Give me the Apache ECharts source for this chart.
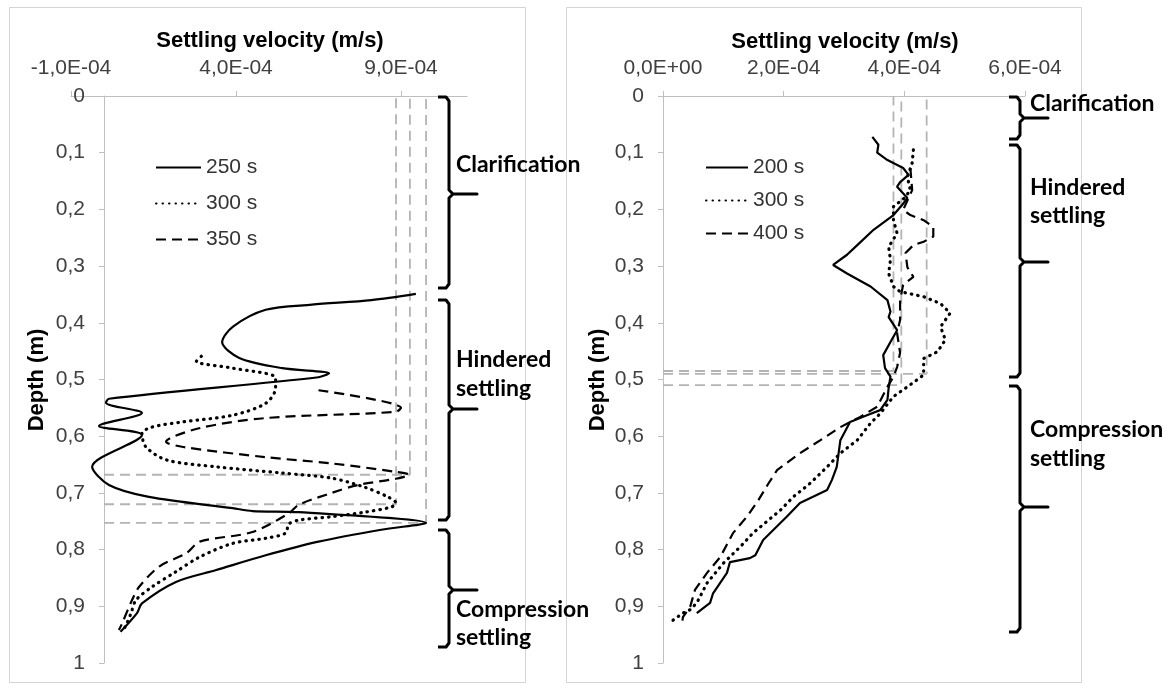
<!DOCTYPE html>
<html>
<head>
<meta charset="utf-8">
<script src="https://cdn.jsdelivr.net/npm/echarts@6/dist/echarts.min.js"></script>
<style>
  html, body { margin: 0; background: #fff; }
  #chart { width: 1171px; height: 684px; }
</style>
</head>
<body>
<div id="chart"></div>
<script>
// velocities are in units of 1E-4 m/s, depths in m
var PER_UNIT = 1e4;

// left panel: 250 s / 300 s / 350 s
var leftNames = ['250 s', '300 s', '350 s'];
var left250Depth = [0.349, 0.36, 0.368, 0.377, 0.407, 0.434, 0.462, 0.48, 0.489, 0.496, 0.534, 0.541, 0.559, 0.582, 0.598, 0.654, 0.686, 0.707, 0.727, 0.732, 0.734, 0.753, 0.765, 0.786, 0.81, 0.836, 0.857, 0.895, 0.912, 0.945];
var left250Vel   = [9.45, 8.1, 6.3, 4.9, 3.9, 3.58, 4.1, 5.4, 6.82, 6.5, 0.15, 0.06, 1.15, -0.15, 1.15, -0.36, 0.15, 1.36, 3.9, 4.5, 5.9, 9.76, 8.4, 6.5, 4.9, 3.4, 2.18, 1.15, 1.0, 0.5];
var left300Depth = [0.459, 0.468, 0.48, 0.497, 0.515, 0.542, 0.563, 0.575, 0.584, 0.595, 0.619, 0.642, 0.654, 0.665, 0.674, 0.69, 0.707, 0.718, 0.725, 0.734, 0.742, 0.748, 0.755, 0.771, 0.78, 0.789, 0.813, 0.839, 0.866, 0.889, 0.912, 0.933, 0.945];
var left300Vel   = [2.95, 2.8, 3.9, 5.2, 5.2, 4.9, 3.9, 2.36, 1.45, 1.15, 1.27, 1.9, 3.4, 5.4, 6.9, 7.9, 8.6, 8.85, 8.7, 7.9, 6.9, 5.9, 5.6, 5.5, 4.9, 3.9, 2.9, 2.18, 1.45, 0.97, 0.82, 0.67, 0.55];
var left350Depth = [0.519, 0.55, 0.557, 0.568, 0.586, 0.61, 0.619, 0.637, 0.648, 0.663, 0.668, 0.675, 0.686, 0.7, 0.721, 0.736, 0.769, 0.786, 0.806, 0.83, 0.866, 0.889, 0.93, 0.942];
var left350Vel   = [6.5, 9.0, 8.85, 4.9, 2.88, 1.88, 2.4, 4.9, 6.9, 8.85, 9.24, 8.85, 7.7, 6.9, 5.9, 5.6, 4.5, 2.9, 2.5, 1.67, 1.06, 0.85, 0.55, 0.45];
// dashed guides: velocity and depth of each profile's peak
var leftGuideVel   = [8.85, 9.27, 9.76];
var leftGuideDepth = [0.72, 0.668, 0.753];
var leftVelTicks = [-1, 4, 9];

// right panel: 200 s / 300 s / 400 s
var rightNames = ['200 s', '300 s', '400 s'];
var right200Depth = [0.072, 0.086, 0.1, 0.113, 0.127, 0.139, 0.152, 0.16, 0.18, 0.19, 0.21, 0.236, 0.263, 0.28, 0.298, 0.313, 0.336, 0.36, 0.38, 0.39, 0.413, 0.434, 0.457, 0.48, 0.495, 0.515, 0.536, 0.554, 0.563, 0.575, 0.607, 0.654, 0.677, 0.695, 0.718, 0.742, 0.783, 0.81, 0.815, 0.822, 0.841, 0.877, 0.894, 0.912];
var right200Vel   = [3.47, 3.57, 3.55, 3.72, 3.98, 4.07, 3.93, 3.88, 4.05, 3.98, 3.82, 3.49, 3.22, 3.05, 2.82, 3.05, 3.44, 3.72, 3.77, 3.74, 3.88, 3.77, 3.65, 3.68, 3.77, 3.74, 3.72, 3.6, 3.38, 3.1, 2.94, 2.88, 2.8, 2.72, 2.27, 2.05, 1.66, 1.53, 1.44, 1.11, 1.06, 0.83, 0.78, 0.56];
var right300Depth = [0.095, 0.118, 0.143, 0.166, 0.18, 0.195, 0.219, 0.242, 0.266, 0.289, 0.313, 0.336, 0.345, 0.354, 0.366, 0.383, 0.407, 0.43, 0.451, 0.463, 0.492, 0.513, 0.53, 0.56, 0.577, 0.607, 0.63, 0.654, 0.683, 0.707, 0.73, 0.771, 0.795, 0.824, 0.859, 0.894, 0.906, 0.912, 0.928];
var right300Vel   = [4.15, 4.13, 4.05, 4.1, 4.0, 3.82, 3.82, 3.88, 3.74, 3.77, 3.74, 3.82, 3.93, 4.32, 4.6, 4.76, 4.6, 4.68, 4.55, 4.32, 4.32, 4.05, 3.82, 3.6, 3.44, 3.22, 2.94, 2.72, 2.44, 2.16, 1.95, 1.49, 1.28, 1.0, 0.73, 0.56, 0.45, 0.33, 0.12];
var right400Depth = [0.127, 0.166, 0.201, 0.21, 0.219, 0.231, 0.248, 0.257, 0.263, 0.277, 0.302, 0.319, 0.333, 0.36, 0.395, 0.418, 0.453, 0.478, 0.495, 0.513, 0.548, 0.566, 0.584, 0.607, 0.63, 0.66, 0.683, 0.713, 0.742, 0.771, 0.813, 0.841, 0.871, 0.901, 0.919, 0.936];
var right400Vel   = [4.1, 4.13, 3.98, 4.1, 4.32, 4.48, 4.48, 4.32, 4.15, 4.02, 4.05, 4.15, 3.98, 3.93, 3.93, 3.88, 3.93, 3.88, 3.82, 3.72, 3.55, 3.27, 2.94, 2.61, 2.27, 1.89, 1.75, 1.58, 1.39, 1.16, 0.95, 0.73, 0.53, 0.45, 0.33, 0.31];
var rightGuideVel   = [3.82, 4.37, 3.95];
var rightGuideDepth = [0.485, 0.49, 0.51];
var rightVelTicks = [0, 2, 4, 6];

var chart = echarts.init(document.getElementById('chart'));

var AXIS_GREY = '#bfbfbf';
var TICK_FONT = '"Liberation Sans", Arial, sans-serif';
var NOTE_FONT = 'bold 23px Lato, "Open Sans", sans-serif';
var dashTypes = { solid: 'solid', dotted: [0.5, 6], dashed: [10, 6] };

function pairs(vel, depth) {
  return depth.map(function (d, i) { return [vel[i] / PER_UNIT, d]; });
}

function profile(name, idx, vel, depth, kind, smooth) {
  return {
    type: 'line', name: name, xAxisIndex: idx, yAxisIndex: idx,
    data: pairs(vel, depth), symbol: 'none', smooth: smooth, z: 3,
    itemStyle: { color: '#000' },
    lineStyle: { color: '#000', width: kind === 'dotted' ? 3.2 : 2.2, type: dashTypes[kind], cap: kind === 'dotted' ? 'round' : 'butt' }
  };
}

// gray dashed guide: horizontal from v=0 at the peak depth, then vertical up to depth 0
function guide(idx, v, d) {
  return {
    type: 'line', xAxisIndex: idx, yAxisIndex: idx, symbol: 'none', silent: true, z: 2,
    data: [[0, d], [v / PER_UNIT, d], [v / PER_UNIT, 0]],
    lineStyle: { color: '#b4b4b4', width: 1.8, type: [10, 6] }
  };
}

function fmtVel(v) {
  var p = v.toExponential(1).split('e');
  var n = parseInt(p[1], 10);
  return p[0].replace('.', ',') + 'E' + (n < 0 ? '-' : '+') + String(Math.abs(n)).padStart(2, '0');
}
function fmtDepth(v) {
  if (Math.abs(v) < 1e-9) return '0';
  if (Math.abs(v - 1) < 1e-9) return '1';
  return v.toFixed(1).replace('.', ',');
}

function xAxisCfg(idx, min, max, ticks) {
  var vals = ticks.map(function (t) { return t / PER_UNIT; });
  return {
    gridIndex: idx, type: 'value', position: 'top', min: min, max: max,
    axisLine: { show: true, onZero: false, lineStyle: { color: AXIS_GREY, width: 1 } },
    axisTick: { show: true, customValues: vals, length: 5, lineStyle: { color: AXIS_GREY } },
    axisLabel: { customValues: vals, formatter: fmtVel, margin: 17, fontSize: 21, color: '#404040', fontFamily: TICK_FONT },
    splitLine: { show: false }
  };
}
// offset moves the depth axis onto v = 0
function yAxisCfg(idx, offset) {
  return {
    gridIndex: idx, type: 'value', inverse: true, min: 0, max: 1, interval: 0.1, offset: offset,
    axisLine: { show: true, onZero: false, lineStyle: { color: AXIS_GREY, width: 1 } },
    axisTick: { show: true, length: 5, lineStyle: { color: AXIS_GREY } },
    axisLabel: { formatter: fmtDepth, margin: 19, fontSize: 21, color: '#404040', fontFamily: TICK_FONT },
    splitLine: { show: false }
  };
}

// curly bracket: hooks at top/bottom pointing left, tick at mid pointing right
function brace(x, top, mid, bot) {
  var pts = [[x - 11, top], [x - 3, top], [x, top + 4], [x, mid - 4], [x + 4, mid], [x + 28, mid],
             [x + 4, mid], [x, mid + 4], [x, bot - 4], [x - 3, bot], [x - 11, bot]];
  return { type: 'polyline', shape: { points: pts }, style: { stroke: '#000', lineWidth: 3, fill: null, lineJoin: 'round' }, z: 10 };
}
function note(text, x, y) {
  return { type: 'text', x: x, y: y, z: 11, style: { text: text, font: NOTE_FONT, fill: '#000', align: 'left', verticalAlign: 'middle' } };
}
function title(text, x, y, rot) {
  return { type: 'text', x: x, y: y, rotation: rot || 0, z: 11,
    style: { text: text, font: 'bold 22px "Liberation Sans", Arial, sans-serif', fill: '#000', align: 'center', verticalAlign: 'middle' } };
}

var series = [
  profile(leftNames[0], 0, left250Vel, left250Depth, 'solid', 0.3),
  profile(leftNames[1], 0, left300Vel, left300Depth, 'dotted', 0.3),
  profile(leftNames[2], 0, left350Vel, left350Depth, 'dashed', 0.3),
  profile(rightNames[0], 1, right200Vel, right200Depth, 'solid', false),
  profile(rightNames[1], 1, right300Vel, right300Depth, 'dotted', false),
  profile(rightNames[2], 1, right400Vel, right400Depth, 'dashed', false)
];
leftGuideVel.forEach(function (v, i) { series.push(guide(0, v, leftGuideDepth[i])); });
rightGuideVel.forEach(function (v, i) { series.push(guide(1, v, rightGuideDepth[i])); });

var legendBase = {
  orient: 'vertical', top: 152, itemHeight: 14, selectedMode: false,
  itemStyle: { opacity: 0 },
  textStyle: { fontSize: 21, color: '#333', fontFamily: TICK_FONT }
};

chart.setOption({
  animation: false,
  backgroundColor: '#fff',
  grid: [
    { left: 71, top: 96, width: 396, height: 567 },
    { left: 663, top: 96, width: 362, height: 567 }
  ],
  xAxis: [
    xAxisCfg(0, -1e-4, 1.1e-3, leftVelTicks),
    xAxisCfg(1, 0, 6e-4, rightVelTicks)
  ],
  yAxis: [yAxisCfg(0, -33), yAxisCfg(1, 0)],
  legend: [
    Object.assign({ data: leftNames, left: 150, itemWidth: 45, itemGap: 15 }, legendBase),
    Object.assign({ data: rightNames, left: 700, itemWidth: 42, itemGap: 12 }, legendBase)
  ],
  series: series,
  graphic: [
    { type: 'rect', shape: { x: 9.5, y: 7.5, width: 516, height: 675 }, style: { fill: null, stroke: '#d4d4d4', lineWidth: 1 }, z: 0 },
    { type: 'rect', shape: { x: 566.5, y: 7.5, width: 515, height: 675 }, style: { fill: null, stroke: '#d4d4d4', lineWidth: 1 }, z: 0 },
    title('Settling velocity (m/s)', 270, 41),
    title('Settling velocity (m/s)', 845, 42),
    title('Depth (m)', 37, 380, Math.PI / 2),
    title('Depth (m)', 598, 380, Math.PI / 2),
    brace(449, 97, 194, 288), brace(449, 300, 409, 520), brace(449, 530, 590, 647),
    note('Clarification', 456, 165),
    note('Hindered', 456, 360), note('settling', 456, 389),
    note('Compression', 456, 610), note('settling', 456, 638),
    brace(1020, 97, 118, 139), brace(1020, 145, 262, 377), brace(1020, 386, 507, 632),
    note('Clarification', 1030, 104),
    note('Hindered', 1030, 188), note('settling', 1030, 216),
    note('Compression', 1030, 430), note('settling', 1030, 459)
  ]
});
</script>
</body>
</html>
